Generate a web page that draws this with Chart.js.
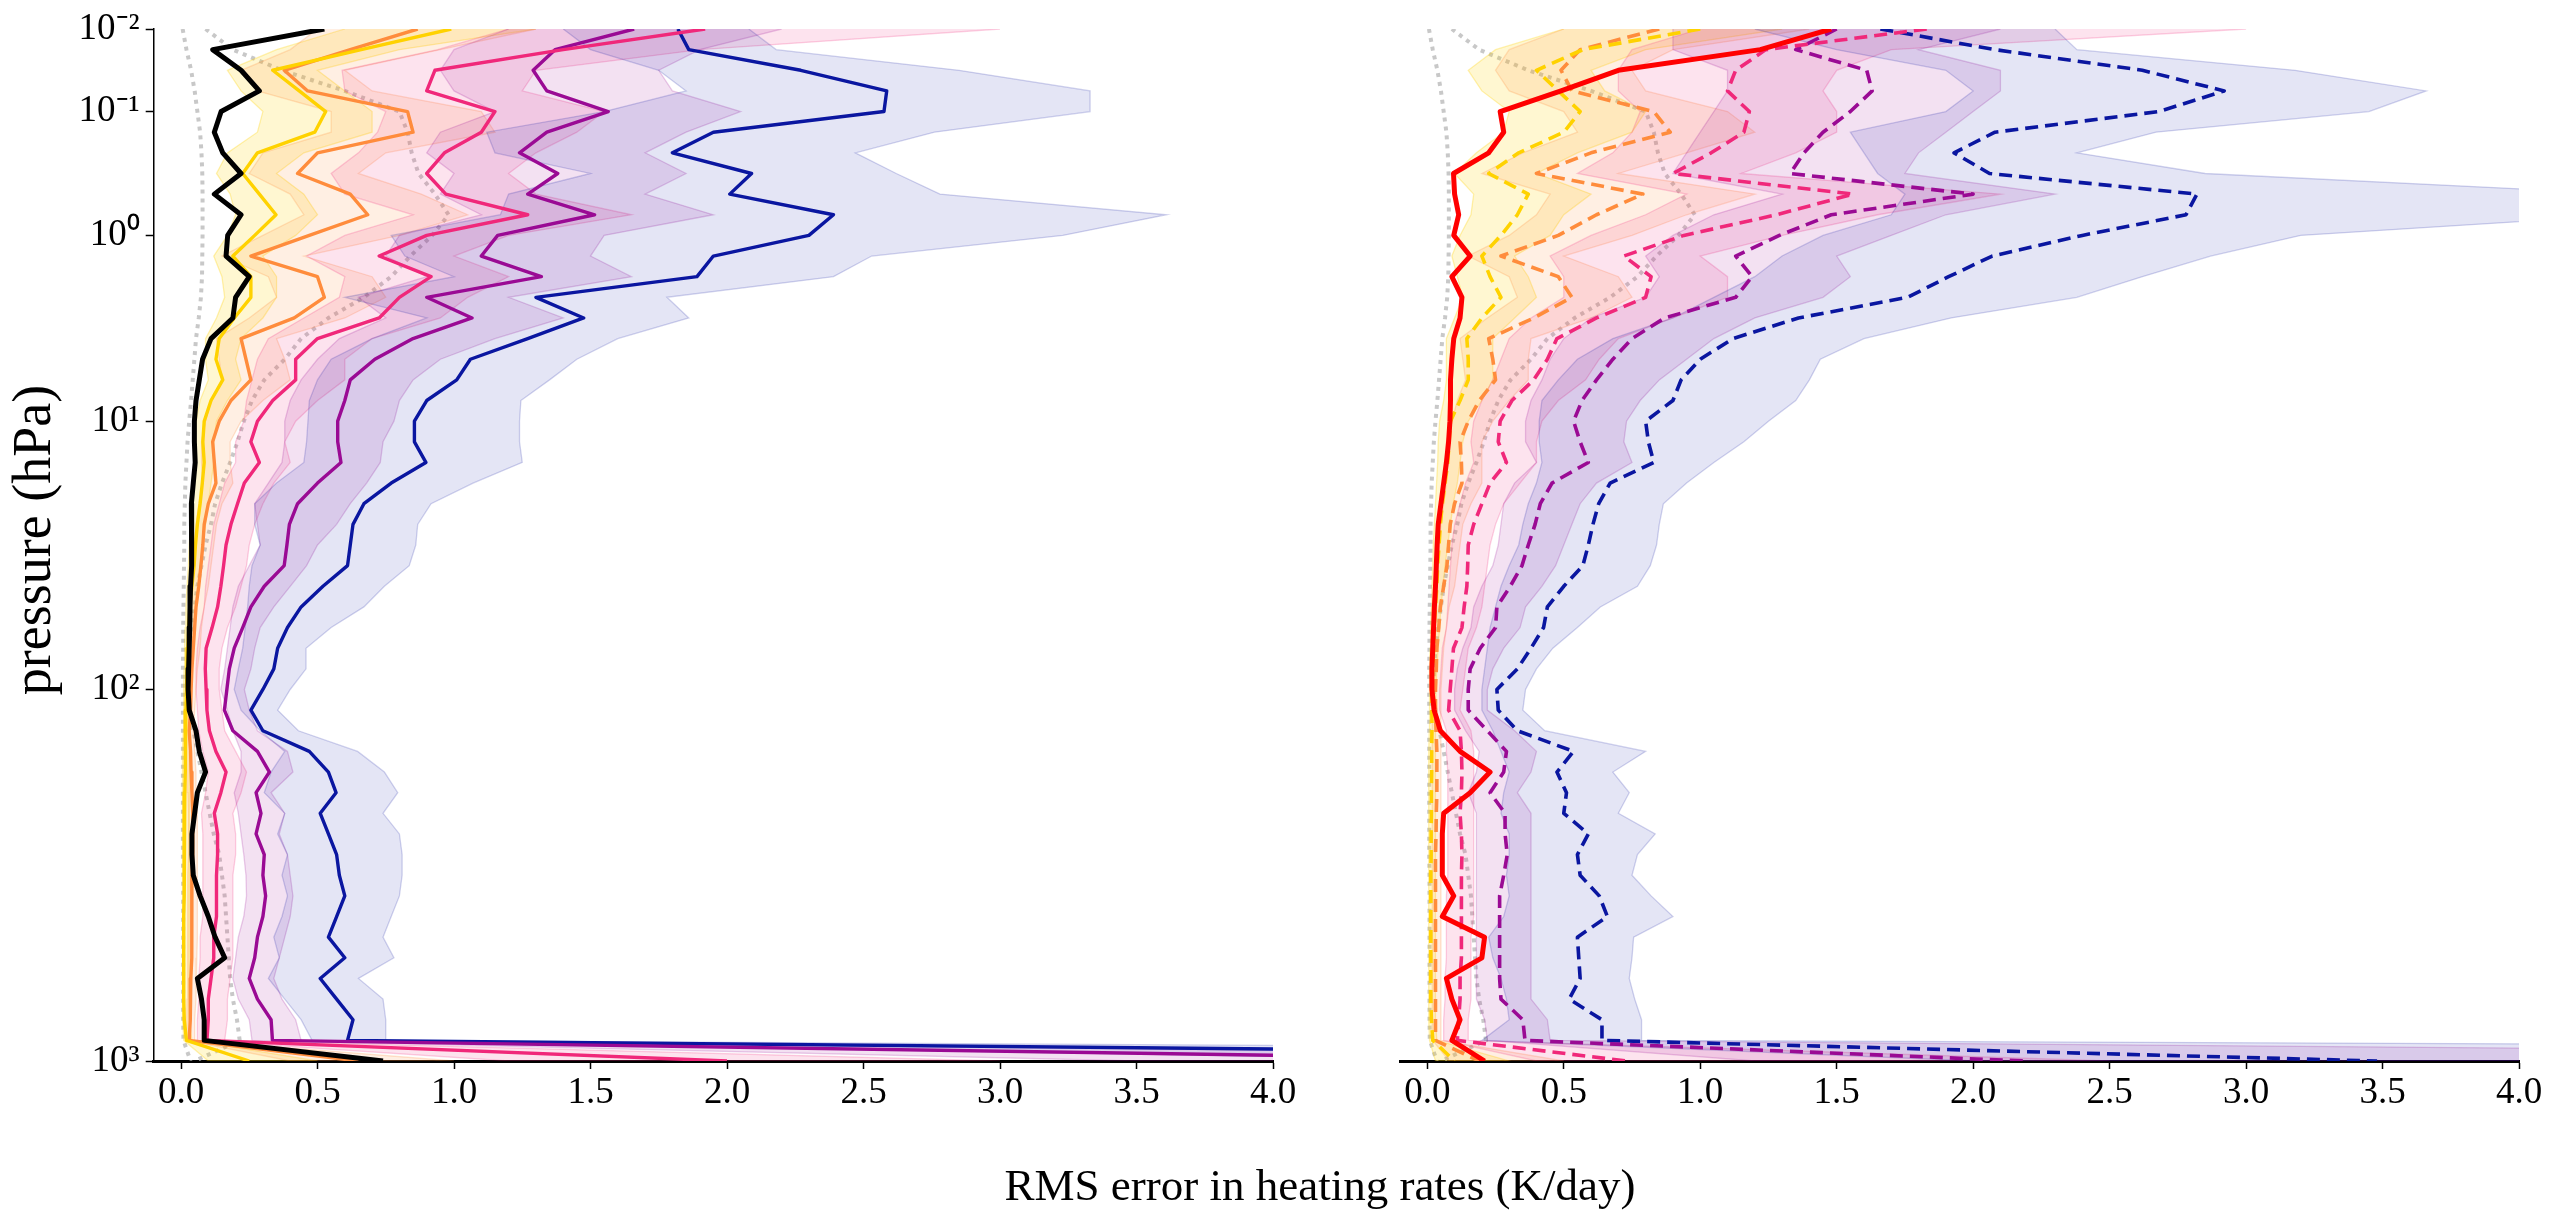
<!DOCTYPE html>
<html><head><meta charset="utf-8">
<script src="https://cdn.jsdelivr.net/npm/chart.js@4.4.0/dist/chart.umd.min.js"></script>
<style>
html,body{margin:0;padding:0;background:#fff;}
#wrap{position:relative;width:2552px;height:1222px;overflow:hidden;background:#fff;}
#c1{position:absolute;left:0;top:0;}
#c2{position:absolute;left:1300px;top:0;}
</style></head>
<body><div id="wrap">
<canvas id="c1" width="2552" height="1222"></canvas>
<canvas id="c2" width="1252" height="1222"></canvas>
</div>
<script>
// ---- axes ----
const levels = [0,1,2,3,4,5,6,7,8,9,10,11,12,13,14,15,16,17,18,19,20,21,22,23,24,25,26,27,28,29,30,31,32,33,34,35,36,37,38,39,40,41,42,43,44,45,46,47,48,49,50];
const yTickLevels = [0,4,10,19,32,50];
const yTickLabels = ['10\u207B\u00B2','10\u207B\u00B9','10\u2070','10\u00B9','10\u00B2','10\u00B3'];
const xTickValues = [0,0.5,1,1.5,2,2.5,3,3.5,4];
const xLabel = 'RMS error in heating rates (K/day)';
const yLabel = 'pressure (hPa)';

// ---- reference dotted profiles (both panels) ----
const refDotA = [0.006,0.02,0.037,0.05,0.06,0.07,0.075,0.078,0.079,0.079,0.079,0.078,0.077,0.073,0.065,0.055,0.049,0.043,0.037,0.03,0.024,0.02,0.016,0.014,0.012,0.012,0.011,0.01,0.009,0.008,0.008,0.007,0.007,0.007,0.007,0.007,0.007,0.007,0.007,0.007,0.007,0.008,0.008,0.008,0.008,0.008,0.008,0.008,0.008,0.009,0.035];
const refDotB = [0.09,0.19,0.37,0.6,0.8,0.83,0.845,0.87,0.93,0.98,0.92,0.84,0.77,0.67,0.54,0.44,0.38,0.305,0.26,0.23,0.207,0.18,0.15,0.125,0.11,0.09,0.075,0.06,0.05,0.04,0.03,0.025,0.022,0.03,0.045,0.06,0.075,0.09,0.105,0.12,0.14,0.15,0.16,0.165,0.17,0.175,0.18,0.19,0.205,0.215,0.05];

// ---- left panel lines ----
const leftBlack = [0.525,0.116,0.22,0.287,0.147,0.122,0.153,0.22,0.122,0.22,0.171,0.165,0.25,0.2,0.19,0.11,0.079,0.067,0.055,0.049,0.049,0.052,0.045,0.038,0.037,0.04,0.04,0.035,0.033,0.032,0.03,0.028,0.026,0.03,0.055,0.067,0.09,0.06,0.05,0.04,0.04,0.045,0.07,0.1,0.125,0.16,0.06,0.075,0.085,0.085,0.74];
const leftYellow = [0.99,0.66,0.336,0.433,0.53,0.49,0.28,0.226,0.287,0.348,0.27,0.19,0.256,0.256,0.195,0.14,0.128,0.153,0.11,0.085,0.08,0.085,0.078,0.07,0.06,0.053,0.048,0.04,0.032,0.028,0.025,0.022,0.02,0.018,0.017,0.015,0.015,0.014,0.013,0.012,0.012,0.011,0.011,0.01,0.01,0.01,0.01,0.01,0.012,0.02,0.25];
const leftOrange = [0.867,0.62,0.378,0.464,0.83,0.85,0.5,0.427,0.62,0.684,0.47,0.256,0.5,0.525,0.415,0.22,0.238,0.256,0.183,0.14,0.116,0.122,0.128,0.1,0.085,0.08,0.073,0.065,0.055,0.05,0.045,0.04,0.037,0.035,0.03,0.035,0.037,0.04,0.043,0.043,0.043,0.04,0.04,0.04,0.04,0.038,0.036,0.035,0.033,0.03,0.65];
const leftPink = [1.92,1.4,0.93,0.9,1.15,1.1,0.965,0.9,0.97,1.27,0.9,0.726,0.916,0.8,0.726,0.5,0.42,0.42,0.336,0.28,0.256,0.287,0.232,0.207,0.183,0.165,0.156,0.146,0.134,0.114,0.092,0.089,0.092,0.095,0.104,0.128,0.165,0.146,0.122,0.134,0.134,0.13,0.13,0.13,0.12,0.12,0.11,0.1,0.1,0.095,2.0];
const leftPurple = [1.66,1.37,1.29,1.34,1.565,1.34,1.24,1.38,1.27,1.515,1.16,1.1,1.32,0.9,1.066,0.85,0.71,0.62,0.6,0.574,0.574,0.586,0.5,0.427,0.397,0.388,0.378,0.305,0.256,0.226,0.195,0.177,0.168,0.159,0.19,0.28,0.324,0.275,0.293,0.275,0.305,0.3,0.31,0.3,0.28,0.27,0.25,0.28,0.33,0.335,5.4];
const leftBlue = [1.82,1.86,2.27,2.585,2.575,1.95,1.8,2.09,2.01,2.39,2.3,1.95,1.89,1.3,1.475,1.27,1.06,1.01,0.9,0.855,0.855,0.897,0.77,0.67,0.63,0.62,0.61,0.52,0.44,0.39,0.354,0.34,0.3,0.256,0.3,0.47,0.54,0.568,0.51,0.54,0.57,0.58,0.6,0.57,0.54,0.6,0.51,0.57,0.63,0.61,8.7];

// ---- left panel bands ----
const leftYellowHi = [1.3,0.8,0.5,0.6,0.7,0.7,0.45,0.35,0.45,0.5,0.42,0.3,0.35,0.35,0.3,0.22,0.2,0.22,0.17,0.13,0.12,0.12,0.11,0.1,0.09,0.08,0.07,0.065,0.055,0.05,0.045,0.04,0.037,0.035,0.033,0.032,0.03,0.03,0.03,0.03,0.03,0.03,0.03,0.03,0.03,0.03,0.03,0.03,0.03,0.04,0.5];
const leftYellowLo = [0.6,0.35,0.17,0.22,0.3,0.28,0.17,0.13,0.18,0.2,0.17,0.12,0.15,0.16,0.13,0.09,0.09,0.1,0.07,0.055,0.05,0.05,0.045,0.04,0.035,0.03,0.027,0.022,0.018,0.015,0.013,0.011,0.01,0.009,0.008,0.007,0.007,0.006,0.006,0.005,0.005,0.005,0.005,0.005,0.005,0.005,0.005,0.005,0.006,0.01,0.1];
const leftOrangeHi = [1.3,0.95,0.6,0.7,1.1,1.15,0.75,0.65,0.88,1.05,0.8,0.45,0.7,0.75,0.6,0.35,0.38,0.4,0.3,0.22,0.18,0.18,0.19,0.15,0.13,0.12,0.11,0.1,0.085,0.075,0.07,0.06,0.055,0.05,0.045,0.05,0.055,0.055,0.06,0.06,0.06,0.06,0.06,0.06,0.06,0.058,0.055,0.055,0.05,0.05,1.0];
const leftOrangeLo = [0.5,0.4,0.22,0.28,0.55,0.55,0.3,0.25,0.4,0.45,0.3,0.15,0.32,0.35,0.25,0.13,0.14,0.15,0.11,0.09,0.075,0.075,0.08,0.065,0.055,0.05,0.045,0.04,0.035,0.03,0.028,0.025,0.022,0.02,0.018,0.02,0.022,0.025,0.027,0.027,0.027,0.025,0.025,0.025,0.025,0.024,0.023,0.022,0.021,0.02,0.4];
const leftPinkHi = [3.0,1.9,1.3,1.25,1.55,1.45,1.3,1.2,1.3,1.65,1.2,1.0,1.2,1.05,0.95,0.7,0.6,0.6,0.5,0.42,0.38,0.4,0.34,0.3,0.27,0.25,0.24,0.22,0.2,0.17,0.15,0.14,0.14,0.15,0.16,0.2,0.24,0.22,0.19,0.2,0.2,0.19,0.19,0.19,0.19,0.19,0.18,0.17,0.17,0.16,3.0];
const leftPinkLo = [1.2,0.94,0.59,0.6,0.75,0.72,0.65,0.55,0.6,0.85,0.6,0.46,0.6,0.58,0.45,0.32,0.28,0.26,0.24,0.23,0.2,0.2,0.16,0.14,0.12,0.11,0.1,0.09,0.085,0.07,0.06,0.055,0.055,0.06,0.065,0.08,0.1,0.09,0.075,0.08,0.08,0.08,0.08,0.08,0.07,0.07,0.065,0.065,0.06,0.06,1.2];
const leftPurpleHi = [2.2,1.9,1.75,1.8,2.05,1.85,1.7,1.85,1.7,1.95,1.55,1.5,1.65,1.2,1.4,1.15,0.95,0.85,0.8,0.78,0.74,0.73,0.68,0.62,0.57,0.5,0.46,0.4,0.34,0.29,0.27,0.256,0.232,0.25,0.28,0.39,0.41,0.33,0.38,0.36,0.39,0.4,0.41,0.4,0.38,0.36,0.34,0.37,0.42,0.44,8];
const leftPurpleLo = [1.2,1.0,0.95,1.0,1.15,0.95,0.9,1.0,0.95,1.1,0.8,0.75,0.9,0.65,0.75,0.58,0.5,0.44,0.4,0.38,0.38,0.37,0.32,0.27,0.28,0.29,0.25,0.21,0.19,0.18,0.17,0.16,0.146,0.17,0.19,0.22,0.22,0.195,0.21,0.22,0.23,0.238,0.24,0.23,0.21,0.2,0.19,0.21,0.25,0.26,3.5];
const leftBlueHi = [2.08,2.18,2.85,3.33,3.33,2.76,2.47,2.62,2.78,3.61,3.23,2.53,2.39,1.78,1.86,1.6,1.45,1.35,1.245,1.24,1.24,1.25,1.07,0.916,0.867,0.86,0.836,0.745,0.67,0.55,0.458,0.458,0.4,0.354,0.43,0.647,0.745,0.794,0.74,0.8,0.81,0.81,0.8,0.77,0.74,0.78,0.65,0.74,0.75,0.75,14];
const leftBlueLo = [1.4,1.5,1.75,1.85,1.55,1.12,1.15,1.5,1.2,1.17,0.77,0.82,1.0,0.6,0.9,0.7,0.55,0.5,0.47,0.465,0.46,0.45,0.35,0.27,0.27,0.29,0.26,0.25,0.244,0.235,0.226,0.21,0.195,0.22,0.29,0.38,0.33,0.305,0.38,0.354,0.39,0.37,0.39,0.37,0.34,0.36,0.32,0.38,0.44,0.48,5];

// ---- right panel lines ----
const rightRed = [1.48,1.22,0.7,0.49,0.267,0.28,0.225,0.096,0.1,0.115,0.097,0.157,0.09,0.127,0.12,0.097,0.09,0.085,0.085,0.083,0.078,0.07,0.06,0.05,0.04,0.036,0.033,0.03,0.026,0.023,0.02,0.017,0.017,0.025,0.048,0.12,0.23,0.157,0.06,0.055,0.055,0.055,0.097,0.055,0.21,0.2,0.07,0.09,0.12,0.09,0.21];
const rightYellow = [1.0,0.57,0.4,0.48,0.56,0.5,0.335,0.225,0.37,0.33,0.27,0.2,0.23,0.27,0.2,0.145,0.15,0.15,0.12,0.085,0.08,0.075,0.065,0.055,0.048,0.043,0.038,0.035,0.03,0.025,0.023,0.02,0.017,0.017,0.017,0.016,0.016,0.015,0.015,0.014,0.014,0.013,0.013,0.013,0.013,0.013,0.013,0.013,0.015,0.02,0.1];
const rightOrange = [0.85,0.56,0.49,0.53,0.83,0.89,0.6,0.4,0.79,0.62,0.48,0.27,0.48,0.53,0.39,0.225,0.24,0.25,0.19,0.15,0.12,0.125,0.127,0.1,0.084,0.078,0.072,0.06,0.048,0.042,0.035,0.033,0.03,0.03,0.032,0.035,0.035,0.035,0.033,0.032,0.03,0.03,0.03,0.03,0.03,0.03,0.03,0.03,0.03,0.03,0.19];
const rightPink = [1.83,1.24,1.13,1.1,1.18,1.16,1.04,0.9,1.56,1.28,0.94,0.72,0.82,0.8,0.62,0.475,0.44,0.39,0.31,0.267,0.26,0.29,0.23,0.2,0.17,0.15,0.148,0.145,0.135,0.127,0.096,0.09,0.084,0.078,0.12,0.125,0.127,0.125,0.12,0.125,0.127,0.125,0.125,0.125,0.125,0.125,0.12,0.12,0.115,0.11,0.73];
const rightPurple = [1.5,1.35,1.61,1.63,1.55,1.45,1.38,1.33,2.0,1.48,1.29,1.13,1.19,1.13,0.87,0.75,0.68,0.62,0.567,0.536,0.56,0.59,0.457,0.414,0.395,0.37,0.347,0.304,0.255,0.25,0.194,0.157,0.15,0.15,0.22,0.29,0.28,0.23,0.285,0.285,0.293,0.28,0.265,0.265,0.265,0.265,0.265,0.27,0.35,0.358,2.19];
const rightBlue = [1.66,2.08,2.62,2.92,2.68,2.08,1.93,2.06,2.82,2.78,2.4,2.07,1.91,1.76,1.36,1.12,1.0,0.93,0.9,0.8,0.81,0.83,0.67,0.628,0.607,0.59,0.57,0.5,0.44,0.426,0.38,0.33,0.255,0.26,0.33,0.536,0.475,0.51,0.5,0.59,0.55,0.56,0.63,0.66,0.55,0.555,0.56,0.52,0.64,0.64,3.48];

// ---- right panel bands ----
const rightYellowHi = [1.3,0.8,0.6,0.65,0.8,0.75,0.55,0.4,0.6,0.5,0.45,0.32,0.37,0.4,0.32,0.24,0.24,0.24,0.2,0.15,0.13,0.12,0.11,0.095,0.085,0.075,0.065,0.058,0.05,0.045,0.04,0.035,0.032,0.03,0.03,0.03,0.03,0.03,0.03,0.03,0.03,0.03,0.03,0.03,0.03,0.03,0.03,0.03,0.03,0.035,0.3];
const rightYellowLo = [0.5,0.25,0.15,0.2,0.3,0.28,0.18,0.1,0.17,0.16,0.12,0.09,0.11,0.13,0.1,0.07,0.07,0.07,0.06,0.045,0.04,0.038,0.034,0.03,0.026,0.022,0.02,0.017,0.015,0.012,0.01,0.009,0.008,0.007,0.007,0.006,0.006,0.006,0.005,0.005,0.005,0.005,0.005,0.005,0.005,0.005,0.005,0.005,0.005,0.008,0.03];
const rightOrangeHi = [1.4,0.9,0.75,0.8,1.1,1.2,0.95,0.7,1.2,0.95,0.75,0.5,0.7,0.75,0.6,0.38,0.37,0.37,0.3,0.24,0.2,0.2,0.2,0.16,0.13,0.12,0.11,0.1,0.08,0.07,0.06,0.055,0.05,0.05,0.05,0.05,0.05,0.05,0.05,0.05,0.05,0.05,0.05,0.05,0.05,0.05,0.05,0.05,0.05,0.05,0.5];
const rightOrangeLo = [0.5,0.3,0.25,0.3,0.5,0.55,0.35,0.2,0.45,0.4,0.3,0.15,0.3,0.33,0.22,0.12,0.13,0.14,0.11,0.09,0.07,0.07,0.07,0.06,0.05,0.045,0.04,0.035,0.03,0.025,0.022,0.02,0.018,0.018,0.018,0.018,0.018,0.018,0.018,0.018,0.018,0.018,0.018,0.018,0.018,0.018,0.018,0.018,0.018,0.02,0.08];
const rightPinkHi = [3.0,1.7,1.5,1.45,1.5,1.5,1.35,1.15,2.1,1.65,1.3,1.0,1.1,1.1,0.9,0.7,0.63,0.58,0.48,0.42,0.4,0.4,0.34,0.28,0.25,0.23,0.22,0.21,0.2,0.18,0.15,0.14,0.13,0.12,0.16,0.17,0.17,0.17,0.17,0.17,0.17,0.17,0.17,0.17,0.16,0.16,0.16,0.16,0.15,0.15,2.5];
const rightPinkLo = [1.0,0.75,0.7,0.7,0.78,0.75,0.68,0.55,0.95,0.8,0.6,0.45,0.5,0.5,0.38,0.3,0.27,0.24,0.2,0.17,0.16,0.17,0.14,0.12,0.1,0.09,0.085,0.08,0.075,0.07,0.055,0.05,0.045,0.045,0.07,0.07,0.075,0.075,0.075,0.075,0.075,0.075,0.07,0.07,0.07,0.07,0.065,0.065,0.06,0.06,0.4];
const rightPurpleHi = [2.1,1.8,2.1,2.1,2.0,1.9,1.8,1.75,2.3,1.9,1.7,1.5,1.55,1.45,1.2,1.05,0.95,0.85,0.78,0.73,0.72,0.75,0.62,0.56,0.53,0.5,0.47,0.42,0.36,0.34,0.28,0.24,0.22,0.22,0.32,0.4,0.38,0.33,0.38,0.38,0.38,0.38,0.38,0.38,0.38,0.38,0.38,0.38,0.44,0.45,10];
const rightPurpleLo = [0.9,0.9,1.1,1.1,1.05,1.0,0.95,0.9,1.3,1.05,0.9,0.8,0.85,0.8,0.6,0.5,0.45,0.42,0.38,0.36,0.36,0.4,0.32,0.28,0.27,0.26,0.24,0.2,0.17,0.16,0.13,0.11,0.1,0.1,0.14,0.19,0.18,0.15,0.18,0.18,0.18,0.18,0.18,0.18,0.18,0.18,0.18,0.18,0.21,0.22,1.2];
const rightBlueHi = [2.3,2.38,3.18,3.66,3.45,2.67,2.38,2.85,4.4,4.4,3.2,2.87,2.62,2.38,1.92,1.6,1.44,1.4,1.35,1.25,1.16,1.05,0.95,0.865,0.85,0.84,0.817,0.77,0.634,0.55,0.46,0.4,0.36,0.35,0.43,0.8,0.68,0.74,0.7,0.835,0.77,0.75,0.82,0.9,0.756,0.75,0.74,0.76,0.785,0.785,20];
const rightBlueLo = [1.2,1.5,1.9,2.0,1.9,1.55,1.6,1.65,1.75,1.7,1.45,1.3,1.2,1.05,0.9,0.68,0.55,0.48,0.42,0.41,0.41,0.42,0.4,0.37,0.35,0.335,0.3,0.27,0.25,0.23,0.22,0.21,0.2,0.2,0.24,0.27,0.3,0.28,0.27,0.3,0.3,0.29,0.3,0.28,0.225,0.24,0.27,0.29,0.3,0.2,2.0];

// ---- styling ----
const FONT = "'Liberation Serif','Times New Roman',serif";
const COL = {black:'#000000', yellow:'#ffd200', orange:'#ff8c3c', pink:'#f0287a', purple:'#9a0a94', blue:'#0a16a0', red:'#ff0000', grey:'#c8c8c8'};
const ALPHA = {yellow:0.18, orange:0.14, pink:0.13, purple:0.12, blue:0.11};
const DASH = [13,7];

function rgba(hex, a) { const n = parseInt(hex.slice(1), 16); return 'rgba(' + ((n >> 16) & 255) + ',' + ((n >> 8) & 255) + ',' + (n & 255) + ',' + a + ')'; }
function pts(arr) { return arr.map((v, i) => ({x: v, y: levels[i]})); }
function lineDs(arr, color, width, dash, order) {
  return {data: pts(arr), borderColor: color, backgroundColor: color, borderWidth: width, borderDash: dash, borderJoinStyle: 'round', borderCapStyle: 'butt', pointRadius: 0, fill: false, tension: 0, order: order};
}
function bandDs(lo, hi, key, order) {
  return {data: pts(hi).concat(pts(lo).reverse()), borderColor: rgba(COL[key], ALPHA[key] * 1.7), backgroundColor: rgba(COL[key], ALPHA[key]), borderWidth: 1.3, pointRadius: 0, fill: 'shape', tension: 0, order: order};
}
function dottedDs(arr) {
  return {data: pts(arr), borderColor: COL.grey, borderWidth: 4, borderDash: [4, 5], borderCapStyle: 'butt', pointRadius: 0, fill: false, tension: 0, order: 40};
}

// shared axis titles, drawn as text on the full-width left canvas
const axisTitles = {
  id: 'axisTitles',
  afterDraw(chart) {
    const ctx = chart.ctx;
    ctx.save();
    ctx.fillStyle = '#000';
    ctx.textAlign = 'center';
    ctx.textBaseline = 'alphabetic';
    ctx.font = '45px ' + FONT;
    ctx.fillText(xLabel, 1320, 1200);
    ctx.font = '54px ' + FONT;
    ctx.translate(50, 540);
    ctx.rotate(-Math.PI / 2);
    ctx.fillText(yLabel, 0, 0);
    ctx.restore();
  }
};

function makeChart(id, datasets, showY, pad, plugins) {
  return new Chart(document.getElementById(id), {
    type: 'line', data: {datasets: datasets}, plugins: plugins,
    options: {
      responsive: false, animation: false, devicePixelRatio: 1, events: [],
      layout: {padding: pad},
      plugins: {legend: {display: false}, tooltip: {enabled: false}, title: {display: false}},
      scales: {
        x: {type: 'linear', min: -0.1, max: 4,
          afterBuildTicks: s => { s.ticks = xTickValues.map(v => ({value: v})); },
          afterFit: s => { s.height = 161; },
          ticks: {callback: v => Number(v).toFixed(1), font: {family: FONT, size: 37}, color: '#000', padding: 2, maxRotation: 0, autoSkip: false},
          grid: {display: true, drawOnChartArea: false, drawTicks: true, tickLength: 8, tickWidth: 1.5, tickColor: '#000'},
          border: {display: true, color: '#000', width: 3}},
        y: {type: 'linear', min: 0, max: 50, reverse: true, display: showY,
          afterBuildTicks: s => { s.ticks = yTickLevels.map(v => ({value: v})); },
          afterFit: s => { s.width = showY ? 153.7 : 0; },
          ticks: {callback: (v, i) => yTickLabels[i], font: {family: FONT, size: 37}, color: '#000', padding: 6, autoSkip: false},
          grid: {display: true, drawOnChartArea: false, drawTicks: true, tickLength: 8, tickWidth: 1.5, tickColor: '#000'},
          border: {display: true, color: '#000', width: 1.5}}
      }
    }
  });
}

const leftSets = [
  dottedDs(refDotA), dottedDs(refDotB),
  bandDs(leftYellowLo, leftYellowHi, 'yellow', 30), bandDs(leftOrangeLo, leftOrangeHi, 'orange', 29),
  bandDs(leftPinkLo, leftPinkHi, 'pink', 28), bandDs(leftPurpleLo, leftPurpleHi, 'purple', 27),
  bandDs(leftBlueLo, leftBlueHi, 'blue', 26),
  lineDs(leftBlue, COL.blue, 3.4, [], 15), lineDs(leftPurple, COL.purple, 3.4, [], 14),
  lineDs(leftPink, COL.pink, 3.4, [], 13), lineDs(leftOrange, COL.orange, 3.4, [], 12),
  lineDs(leftYellow, COL.yellow, 3.4, [], 11), lineDs(leftBlack, COL.black, 5, [], 1)
];
const rightSets = [
  dottedDs(refDotA), dottedDs(refDotB),
  bandDs(rightYellowLo, rightYellowHi, 'yellow', 30), bandDs(rightOrangeLo, rightOrangeHi, 'orange', 29),
  bandDs(rightPinkLo, rightPinkHi, 'pink', 28), bandDs(rightPurpleLo, rightPurpleHi, 'purple', 27),
  bandDs(rightBlueLo, rightBlueHi, 'blue', 26),
  lineDs(rightBlue, COL.blue, 3.6, DASH, 15), lineDs(rightPurple, COL.purple, 3.6, DASH, 14),
  lineDs(rightPink, COL.pink, 3.6, DASH, 13), lineDs(rightOrange, COL.orange, 3.6, DASH, 12),
  lineDs(rightYellow, COL.yellow, 3.6, DASH, 11), lineDs(rightRed, COL.red, 5, [], 1)
];

makeChart('c1', leftSets, true, {top: 29, right: 1279, left: 0, bottom: 0}, [axisTitles]);
makeChart('c2', rightSets, false, {top: 29, right: 33, left: 100, bottom: 0}, []);
</script>
</body></html>
